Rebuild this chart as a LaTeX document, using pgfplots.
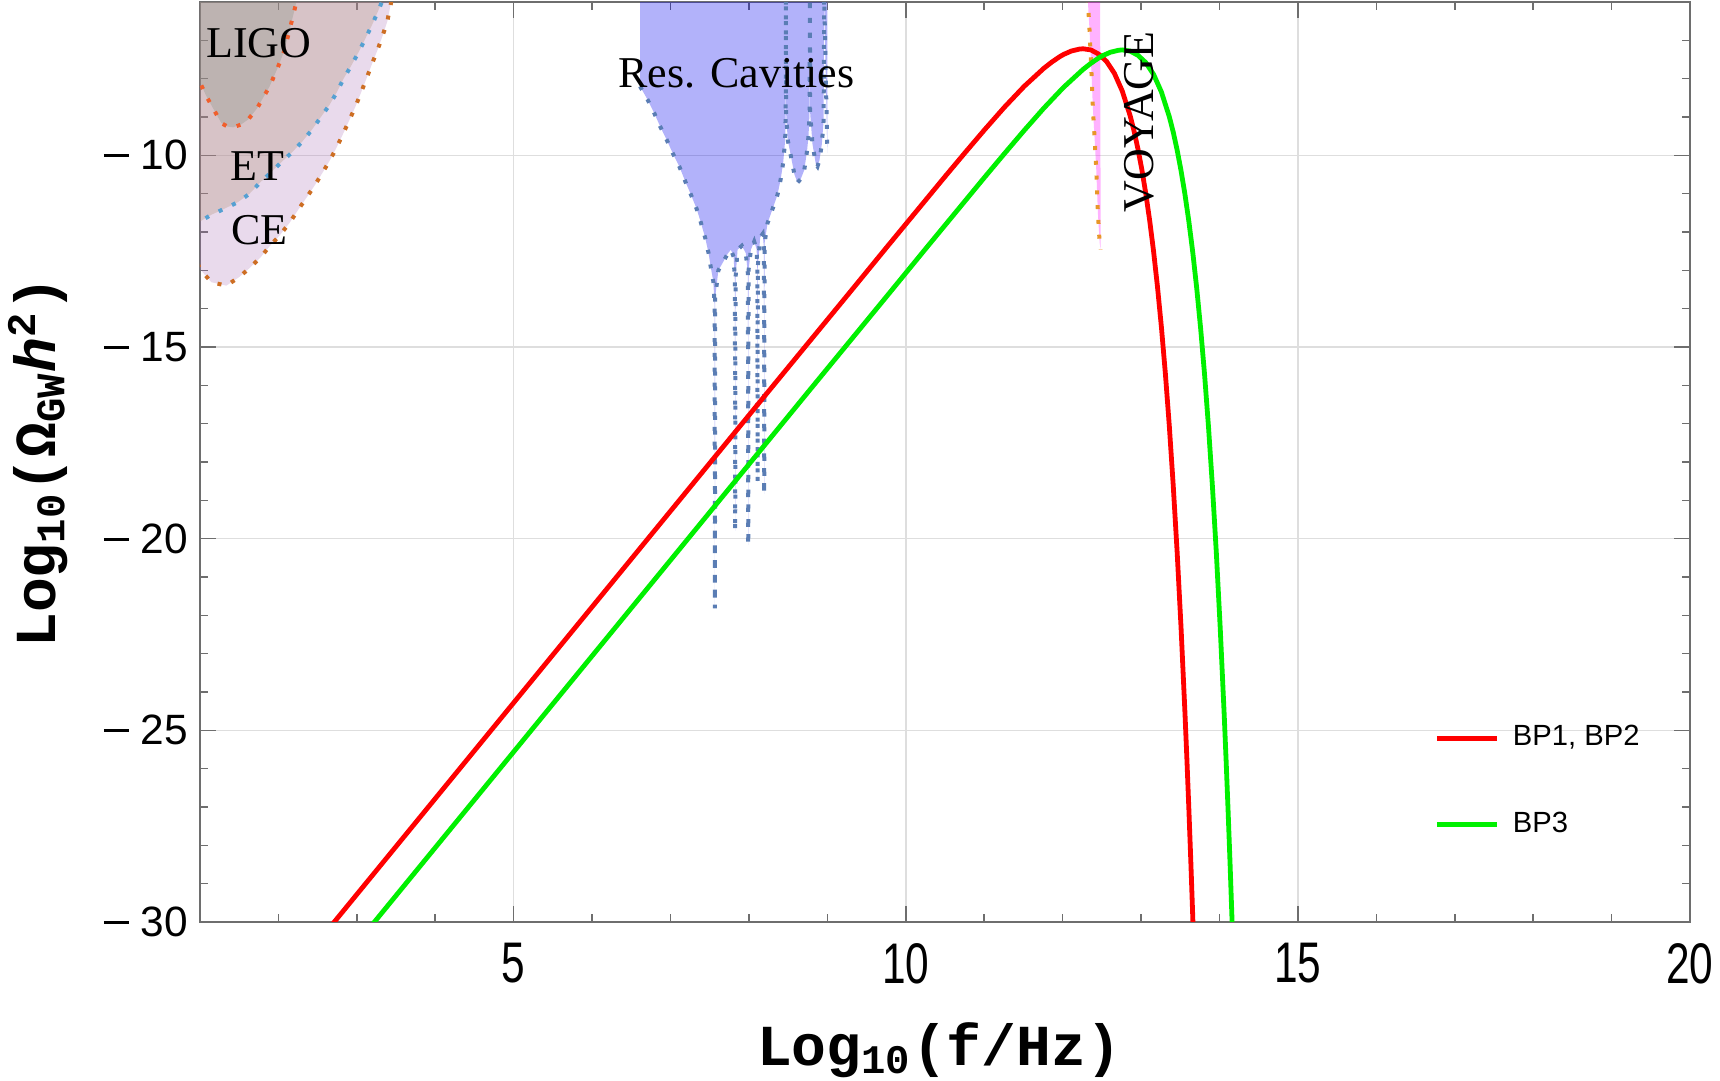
\documentclass[border=0pt]{standalone}
\usepackage{fontspec}
\setmainfont{Liberation Sans}
\newfontfamily\serifface{Liberation Serif}
\newfontfamily\monoface{Liberation Mono}
\usepackage{graphicx}
\usepackage{pgfplots}
\pgfplotsset{compat=1.18}
\usepackage{pgfplotstable}

\definecolor{cefill}{RGB}{167,107,179}
\definecolor{etfill}{RGB}{176,145,116}
\definecolor{ligofill}{RGB}{129,143,127}
\definecolor{rcfill}{RGB}{0,0,238}
\definecolor{voyfill}{RGB}{255,0,255}
\definecolor{ligoline}{RGB}{240,95,45}
\definecolor{etline}{RGB}{85,160,210}
\definecolor{celine}{RGB}{205,110,35}
\definecolor{rcline}{RGB}{90,125,180}
\definecolor{voyline}{RGB}{232,150,40}
\definecolor{bpred}{RGB}{255,0,0}
\definecolor{bpgreen}{RGB}{0,240,0}
\definecolor{gridgray}{RGB}{222,222,222}
\definecolor{axgray}{RGB}{110,110,110}

% long minus sign for the y tick labels
\newcommand{\negsign}{\rule[0.3em]{0.6em}{0.07em}\hspace{0.27em}}

% detector sensitivity curves (log10 f, log10 Omega h^2)
\pgfplotstableread{
x y
0.95 -5.5
0.95 -7.85
1.005 -8.12
1.082 -8.46
1.166 -8.77
1.273 -9.16
1.350 -9.25
1.421 -9.27
1.520 -9.20
1.612 -9.07
1.726 -8.78
1.888 -8.20
1.986 -7.74
2.070 -7.30
2.140 -6.75
2.200 -6.25
2.240 -5.90
2.280 -5.50
}\ligo

\pgfplotstableread{
x y
0.95 -5.5
0.95 -11.78
1.005 -11.72
1.145 -11.55
1.315 -11.39
1.484 -11.22
1.633 -11.00
1.761 -10.72
1.897 -10.46
2.037 -10.18
2.185 -9.90
2.313 -9.62
2.432 -9.32
2.542 -9.00
2.653 -8.68
2.746 -8.35
2.831 -8.00
2.929 -7.66
3.022 -7.31
3.107 -6.96
3.192 -6.61
3.268 -6.25
3.330 -5.95
3.400 -5.50
}\et

\pgfplotstableread{
x y
0.95 -5.5
0.95 -12.75
1.005 -12.98
1.145 -13.31
1.336 -13.40
1.497 -13.18
1.633 -12.94
1.773 -12.66
1.888 -12.37
2.007 -12.11
2.143 -11.76
2.249 -11.43
2.356 -11.11
2.461 -10.79
2.560 -10.46
2.653 -10.14
2.738 -9.81
2.822 -9.45
2.907 -9.07
2.984 -8.72
3.056 -8.35
3.128 -7.97
3.196 -7.60
3.268 -7.23
3.332 -6.86
3.388 -6.51
3.426 -6.12
3.460 -5.80
3.500 -5.50
}\ce

\pgfplotstableread{
x y
6.611 -5.5
6.611 -8.20
6.708 -8.55
6.793 -8.90
6.866 -9.24
6.950 -9.59
7.027 -9.94
7.112 -10.29
7.188 -10.68
7.261 -11.03
7.332 -11.39
7.388 -11.76
7.443 -12.16
7.485 -12.55
7.515 -12.94
7.545 -13.28
7.562 -13.90
7.566 -21.82
7.570 -13.70
7.610 -13.00
7.672 -12.78
7.728 -12.57
7.770 -12.46
7.805 -12.65
7.821 -13.30
7.825 -19.80
7.829 -13.20
7.855 -12.46
7.910 -12.36
7.960 -12.55
7.987 -13.10
7.991 -20.17
7.995 -13.00
8.025 -12.46
8.067 -12.25
8.098 -12.45
8.107 -13.00
8.110 -18.52
8.113 -12.90
8.144 -12.14
8.175 -12.05
8.191 -12.40
8.195 -18.84
8.199 -12.30
8.237 -11.77
8.301 -11.40
8.364 -11.03
8.407 -10.60
8.437 -10.18
8.462 -9.60
8.469 -8.80
8.471 -5.90
8.474 -8.90
8.495 -9.60
8.535 -10.02
8.580 -10.50
8.619 -10.71
8.660 -10.62
8.705 -10.39
8.740 -9.90
8.760 -9.49
8.774 -8.80
8.777 -5.90
8.781 -8.90
8.810 -9.70
8.853 -10.23
8.874 -10.29
8.900 -10.12
8.930 -9.70
8.952 -9.10
8.960 -5.90
9.000 -9.94
9.000 -5.50
}\rescav

\pgfplotstableread{
x y
12.320 -5.90
12.344 -6.77
12.370 -7.94
12.386 -8.78
12.408 -9.57
12.428 -10.33
12.450 -11.51
12.472 -12.28
12.485 -12.46
12.478 -5.50
}\voyage

% benchmark spectra
\pgfplotstableread{
x y
2.50 -30.53
5.00 -24.28
7.26 -18.63
8.26 -16.13
9.26 -13.64
9.76 -12.39
10.26 -11.15
10.51 -10.53
10.76 -9.92
11.01 -9.32
11.26 -8.74
11.51 -8.20
11.76 -7.73
11.86 -7.57
11.96 -7.43
12.01 -7.37
12.11 -7.28
12.21 -7.23
12.26 -7.22
12.36 -7.25
12.46 -7.36
12.56 -7.55
12.66 -7.86
12.76 -8.32
12.86 -8.96
12.91 -9.36
12.96 -9.83
13.01 -10.37
13.06 -10.99
13.11 -11.70
13.16 -12.51
13.21 -13.44
13.26 -14.49
13.31 -15.69
13.36 -17.05
13.41 -18.60
13.46 -20.34
13.51 -22.32
13.56 -24.55
13.585 -25.77
13.61 -27.07
13.635 -28.44
13.66 -29.91
13.685 -31.46
}\bpone

\pgfplotstableread{
x y
3.00 -30.56
5.50 -24.31
7.76 -18.66
8.76 -16.16
9.76 -13.67
10.26 -12.42
10.76 -11.18
11.01 -10.56
11.26 -9.95
11.51 -9.35
11.76 -8.77
12.01 -8.23
12.26 -7.76
12.36 -7.60
12.46 -7.46
12.51 -7.40
12.61 -7.31
12.71 -7.26
12.76 -7.25
12.86 -7.28
12.96 -7.39
13.06 -7.58
13.16 -7.89
13.26 -8.35
13.36 -8.99
13.41 -9.39
13.46 -9.86
13.51 -10.40
13.56 -11.02
13.61 -11.73
13.66 -12.54
13.71 -13.47
13.76 -14.52
13.81 -15.72
13.86 -17.08
13.91 -18.63
13.96 -20.37
14.01 -22.35
14.06 -24.58
14.085 -25.80
14.11 -27.10
14.135 -28.47
14.16 -29.94
14.185 -31.49
}\bpthree

\tikzset{
  sensdots/.style={line width=1bp, dash pattern=on 1bp off 2.7bp, line cap=butt},
}

\begin{document}
\begin{tikzpicture}
\begin{axis}[
  scale only axis,
  width=372.5bp, height=230bp,
  xmin=1, xmax=20, ymin=-30, ymax=-6,
  xtick={5,10,15,20},
  minor xtick={1,...,20},
  ytick={-30,-25,-20,-15,-10},
  minor ytick={-30,...,-6},
  yticklabels={\negsign 30,\negsign 25,\negsign 20,\negsign 15,\negsign 10},
  xticklabel={\scalebox{1}[1.35]{\pgfmathprintnumber[assume math mode=true]{\tick}}},
  ticklabel style={font=\fontsize{10.6bp}{12bp}\selectfont},
  yticklabel style={inner sep=0pt, xshift=-2.8bp},
  xticklabel style={inner sep=0pt, anchor=north, yshift=-5.2bp},
  tick align=inside,
  major tick length=4bp, minor tick length=2bp,
  tick style={color=axgray, line width=0.4bp},
  axis line style={color=axgray, line width=0.5bp},
  grid=major,
  major grid style={color=gridgray, line width=0.4bp},
  every axis x label/.style={at={(axis description cs:0.496,-0.139)}, anchor=center},
  every axis y label/.style={at={(axis description cs:-0.1087,0.5)}, anchor=center, rotate=90},
  xlabel={\monoface\bfseries Log\textsubscript{10}(f/Hz)},
  ylabel={\monoface\bfseries Log\textsubscript{10}(Ω\textsubscript{GW}\textit{h}\textsuperscript{2})},
  label style={font=\fontsize{14.5bp}{16bp}\selectfont},
  legend style={at={(axis description cs:0.828,0.1525)}, anchor=west,
    draw=none, fill=none, inner sep=0pt, row sep=15bp, column sep=3.4bp,
    nodes={inner sep=0pt}, cells={anchor=west},
    font=\fontsize{7.3bp}{8.5bp}\selectfont},
  legend image code/.code={\draw[#1] (0bp,0bp) -- (15bp,0bp);},
]
% interferometer regions
\addplot[forget plot, draw=none, fill=cefill, fill opacity=0.25] table {\ce};
\addplot[forget plot, draw=none, fill=etfill, fill opacity=0.3] table {\et};
\addplot[forget plot, draw=none, fill=ligofill, fill opacity=0.3] table {\ligo};
\addplot[forget plot, color=celine, sensdots] table {\ce};
\addplot[forget plot, color=etline, sensdots] table {\et};
\addplot[forget plot, color=ligoline, sensdots] table {\ligo};

% resonant cavities
\addplot[forget plot, draw=none, fill=rcfill, fill opacity=0.3] table {\rescav};
\addplot[forget plot, color=rcline, sensdots, restrict y to domain=-40:-5.7] table {\rescav};

% VOYAGE
\addplot[forget plot, draw=none, fill=voyfill, fill opacity=0.3] table {\voyage};
\addplot[forget plot, color=voyline, sensdots, restrict y to domain=-40:-5.7] table {\voyage};

% spectra
\addplot[color=bpred, line width=1.2bp] table {\bpone};
\addlegendentry{BP1, BP2}
\addplot[color=bpgreen, line width=1.2bp] table {\bpthree};
\addlegendentry{BP3}

\node[font=\serifface\fontsize{11bp}{13bp}\selectfont] at (axis cs:1.748,-7.07) {LIGO};
\node[font=\serifface\fontsize{11bp}{13bp}\selectfont] at (axis cs:1.733,-10.27) {ET};
\node[font=\serifface\fontsize{11bp}{13bp}\selectfont] at (axis cs:1.761,-11.96) {CE};
\node[font=\serifface\fontsize{11bp}{13bp}\selectfont] at (axis cs:7.84,-7.85) {Res. Cavities};
\node[font=\serifface\fontsize{11bp}{13bp}\selectfont, rotate=90] at (axis cs:12.98,-9.13) {VOYAGE};
\end{axis}
\pgfresetboundingbox
\path (-50bp,-39.75bp) rectangle (380bp,230.5bp);
\end{tikzpicture}
\end{document}
